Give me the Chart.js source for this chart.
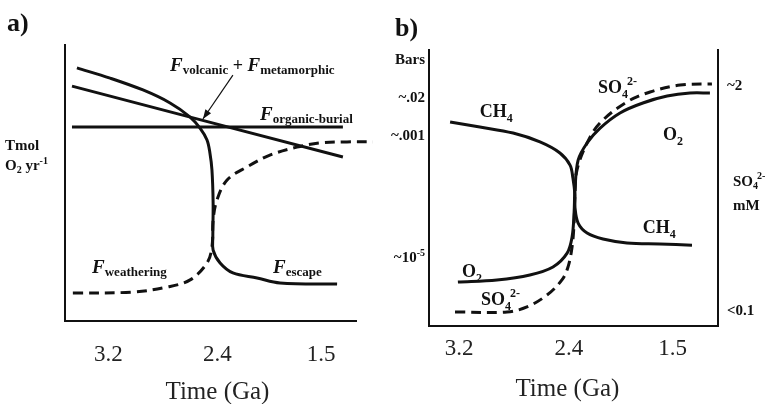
<!DOCTYPE html>
<html><head><meta charset="utf-8">
<script src="https://cdn.jsdelivr.net/npm/chart.js@4/dist/chart.umd.min.js"></script>
<style>
html,body{margin:0;padding:0;background:#fff;width:765px;height:404px;overflow:hidden}
#ca{position:absolute;left:0;top:0}
#cb{position:absolute;left:380px;top:0}
</style></head><body>
<canvas id="ca" width="380" height="404"></canvas>
<canvas id="cb" width="385" height="404"></canvas>
<script>
// ---------- Panel a (schematic position units 0-100) ----------
const aTickPos = [14.9, 52.4, 88.0];
const aTickLabels = ['3.2', '2.4', '1.5'];
const axisTitle = 'Time (Ga)';
const aTitlePos = 52.4;
const escapeX = [4.1, 15.5, 26.8, 36.1, 43.0, 46.4, 48.8, 49.8, 50.5, 50.9, 50.8, 50.9, 53.3, 57.7, 66.0, 73.9, 93.5];
const escapeY = [91.7, 88.0, 83.7, 79.0, 73.9, 69.9, 65.6, 60.9, 54.7, 42.8, 30.4, 25.7, 21.0, 17.4, 15.6, 13.8, 13.4];
const volcanicX = [2.4, 95.5];
const volcanicY = [85.1, 59.4];
const burialX = [2.4, 95.5];
const burialY = [70.3, 70.3];
const weatheringX = [2.7, 23.4, 35.1, 43.0, 48.8, 50.5, 50.9, 52.2, 55.7, 62.5, 70.4, 79.7, 87.6, 96.9, 105.8];
const weatheringY = [10.1, 10.5, 12.3, 14.9, 21.0, 26.8, 36.6, 43.8, 51.1, 55.8, 60.1, 63.0, 64.5, 64.9, 64.9];

// ---------- Panel b ----------
const bTickPos = [10.4, 48.4, 84.3];
const bTickLabels = ['3.2', '2.4', '1.5'];
const bTitlePos = 47.9;
const ch4X = [7.3, 17.6, 29.1, 38.4, 45.3, 48.8, 49.8, 50.5, 50.5, 51.6, 54.7, 60.2, 68.5, 79.9, 91.0];
const ch4Y = [73.9, 72.1, 69.9, 66.7, 62.7, 58.3, 53.6, 47.5, 43.1, 37.3, 33.7, 31.5, 30.1, 29.7, 29.3];
const o2X = [10.0, 23.5, 34.9, 42.9, 47.8, 49.5, 50.2, 50.5, 51.6, 54.7, 59.2, 66.1, 74.0, 82.4, 90.3, 97.2];
const o2Y = [15.9, 16.7, 18.5, 21.4, 26.4, 32.2, 40.9, 49.3, 60.1, 66.3, 71.7, 77.2, 80.8, 83.3, 84.4, 84.4];
const so4X = [9.0, 27.0, 33.9, 40.8, 46.0, 48.1, 49.5, 50.2, 50.5, 51.2, 54.7, 59.2, 68.5, 76.5, 86.9, 97.9];
const so4Y = [5.1, 5.1, 6.9, 11.2, 16.7, 21.4, 28.6, 37.3, 47.5, 56.5, 66.3, 73.6, 81.2, 84.8, 87.3, 87.7];

// left (Bars) and right (SO4 mM) level labels of panel b
const bLeftLevels = [
  {y: 94.9, parts: [['Bars', 'u']]},
  {y: 81.2, parts: [['~.02', 'u']]},
  {y: 67.4, parts: [['~.001', 'u']]},
  {y: 23.2, parts: [['~10', 'u'], ['-5', 'usp']]}
];
const bRightLevels = [
  {y: 85.5, dx: 9, parts: [['~2', 'u']]},
  {y: 50.7, dx: 15, parts: [['SO', 'u'], ['4', 'us'], ['2-', 'usp2']]},
  {y: 42.0, dx: 15, parts: [['mM', 'u']]},
  {y: 4.0, dx: 9, parts: [['<0.1', 'u']]}
];

const aLabels = [
  {x: 36.1, y: 90.4, parts: [['F', 'F'], ['volcanic', 'sub'], [' + ', 'n'], ['F', 'F'], ['metamorphic', 'sub']]},
  {x: 67.0, y: 72.8, parts: [['F', 'F'], ['organic-burial', 'sub']]},
  {x: 9.3, y: 17.4, parts: [['F', 'F'], ['weathering', 'sub']]},
  {x: 71.5, y: 17.4, parts: [['F', 'F'], ['escape', 'sub']]}
];
const aUnits = [
  {y: 62.0, parts: [['Tmol', 'u']]},
  {y: 54.7, parts: [['O', 'u'], ['2', 'us'], [' yr', 'u'], ['-1', 'usp']]}
];
const bLabels = [
  {x: 17.6, y: 75.7, parts: [['CH', 'c'], ['4', 'cs']]},
  {x: 58.5, y: 84.4, parts: [['SO', 'c'], ['4', 'cs'], ['2-', 'csup']]},
  {x: 81.0, y: 67.4, parts: [['O', 'c'], ['2', 'cs']]},
  {x: 74.0, y: 33.7, parts: [['CH', 'c'], ['4', 'cs']]},
  {x: 11.4, y: 17.8, parts: [['O', 'c'], ['2', 'cs']]},
  {x: 18.0, y: 7.6, parts: [['SO', 'c'], ['4', 'cs'], ['2-', 'csup']]}
];
const arrowFrom = {x: 57.7, y: 89.1};
const arrowTo = {x: 47.4, y: 73.2};

const SERIF = '"Liberation Serif", "Times New Roman", serif';
const STYLES = {
  F: {font: 'italic bold 19px ' + SERIF, dy: 0},
  sub: {font: 'bold 13px ' + SERIF, dy: 3},
  n: {font: 'bold 18px ' + SERIF, dy: 0},
  c: {font: 'bold 18px ' + SERIF, dy: 0},
  cs: {font: 'bold 12px ' + SERIF, dy: 5},
  csup: {font: 'bold 12px ' + SERIF, dy: -8, dx: -1},
  u: {font: 'bold 15px ' + SERIF, dy: 0},
  us: {font: 'bold 10px ' + SERIF, dy: 3},
  usp: {font: 'bold 10px ' + SERIF, dy: -6},
  usp2: {font: 'bold 10px ' + SERIF, dy: -7, dx: -1}
};

function partsWidth(ctx, parts) {
  let w = 0;
  for (const [t, s] of parts) { ctx.font = STYLES[s].font; w += ctx.measureText(t).width + (STYLES[s].dx || 0); }
  return w;
}
function drawParts(ctx, x, y, parts, align) {
  let cx = align === 'right' ? x - partsWidth(ctx, parts) : x;
  ctx.textBaseline = 'alphabetic';
  ctx.textAlign = 'left';
  ctx.fillStyle = '#111';
  for (const [t, s] of parts) {
    const st = STYLES[s];
    cx += (st.dx || 0);
    ctx.font = st.font;
    ctx.fillText(t, cx, y + (st.dy || 0));
    cx += ctx.measureText(t).width;
  }
}

function zip(xs, ys) { return xs.map((x, i) => ({x: x, y: ys[i]})); }

const LINE = '#111';
function lineDs(label, xs, ys, dashed) {
  return {
    label: label, data: zip(xs, ys), borderColor: LINE, borderWidth: 3,
    pointRadius: 0, tension: 0.35, fill: false, clip: false,
    borderDash: dashed ? [10, 6] : [], borderCapStyle: 'butt', borderJoinStyle: 'round'
  };
}

function xScale(tickPos, tickLabels, tickPad, height) {
  return {
    type: 'linear', min: 0, max: 100, position: 'bottom',
    grid: {display: false, drawTicks: false},
    border: {display: true, color: '#111', width: 2},
    afterBuildTicks: (s) => { s.ticks = tickPos.map(v => ({value: v})); },
    afterFit: (s) => { s.height = height; },
    ticks: {
      autoSkip: false, maxRotation: 0, padding: tickPad, color: '#222',
      font: {family: SERIF, size: 23},
      callback: (v, i) => tickLabels[i]
    },
    title: {display: false}
  };
}
function yScale(pos) {
  return {
    type: 'linear', min: 0, max: 100, position: pos,
    grid: {display: false, drawTicks: false},
    border: {display: true, color: '#111', width: 2},
    ticks: {display: false}
  };
}

function drawAxisTitle(chart, pos, yCenter) {
  const ctx = chart.ctx;
  ctx.font = '25px ' + SERIF; ctx.fillStyle = '#222';
  ctx.textAlign = 'center'; ctx.textBaseline = 'middle';
  ctx.fillText(axisTitle, chart.scales.x.getPixelForValue(pos), yCenter);
}

const annotA = {
  id: 'annotA',
  afterDraw(chart) {
    const ctx = chart.ctx, xs = chart.scales.x, ys = chart.scales.y;
    ctx.save();
    drawAxisTitle(chart, aTitlePos, xs.bottom - 12);
    ctx.textAlign = 'left';
    ctx.font = 'bold 26px ' + SERIF; ctx.fillStyle = '#111'; ctx.textBaseline = 'alphabetic';
    ctx.fillText('a)', 7, 31);
    for (const l of aLabels) drawParts(ctx, xs.getPixelForValue(l.x), ys.getPixelForValue(l.y), l.parts);
    for (const l of aUnits) drawParts(ctx, chart.chartArea.left - 60, ys.getPixelForValue(l.y), l.parts);
    const x1 = xs.getPixelForValue(arrowFrom.x), y1 = ys.getPixelForValue(arrowFrom.y);
    const x2 = xs.getPixelForValue(arrowTo.x), y2 = ys.getPixelForValue(arrowTo.y);
    ctx.strokeStyle = '#111'; ctx.lineWidth = 1.2;
    ctx.beginPath(); ctx.moveTo(x1, y1); ctx.lineTo(x2, y2); ctx.stroke();
    const ang = Math.atan2(y2 - y1, x2 - x1), L = 10, W = 0.35;
    ctx.beginPath();
    ctx.moveTo(x2, y2);
    ctx.lineTo(x2 - L * Math.cos(ang - W), y2 - L * Math.sin(ang - W));
    ctx.lineTo(x2 - L * Math.cos(ang + W), y2 - L * Math.sin(ang + W));
    ctx.closePath(); ctx.fillStyle = '#111'; ctx.fill();
    ctx.restore();
  }
};
const annotB = {
  id: 'annotB',
  afterDraw(chart) {
    const ctx = chart.ctx, xs = chart.scales.x, ys = chart.scales.y;
    const ca = chart.chartArea;
    ctx.save();
    drawAxisTitle(chart, bTitlePos, xs.bottom - 14.5);
    ctx.textAlign = 'left';
    ctx.font = 'bold 26px ' + SERIF; ctx.fillStyle = '#111'; ctx.textBaseline = 'alphabetic';
    ctx.fillText('b)', 15, 36);
    for (const l of bLabels) drawParts(ctx, xs.getPixelForValue(l.x), ys.getPixelForValue(l.y), l.parts);
    for (const l of bLeftLevels) drawParts(ctx, ca.left - 4, ys.getPixelForValue(l.y), l.parts, 'right');
    for (const l of bRightLevels) drawParts(ctx, ca.right + l.dx, ys.getPixelForValue(l.y), l.parts);
    ctx.restore();
  }
};

const common = {
  responsive: false, animation: false, events: [],
  plugins: {legend: {display: false}, tooltip: {enabled: false}}
};

new Chart(document.getElementById('ca'), {
  type: 'line',
  data: {datasets: [
    lineDs('F escape', escapeX, escapeY, false),
    lineDs('F volcanic + F metamorphic', volcanicX, volcanicY, false),
    lineDs('F organic-burial', burialX, burialY, false),
    lineDs('F weathering', weatheringX, weatheringY, true)
  ]},
  options: Object.assign({}, common, {
    layout: {padding: {left: 65, right: 24, top: 45, bottom: 0}},
    scales: {x: xScale(aTickPos, aTickLabels, 20, 83), y: yScale('left')}
  }),
  plugins: [annotA]
});

new Chart(document.getElementById('cb'), {
  type: 'line',
  data: {datasets: [
    lineDs('CH4', ch4X, ch4Y, false),
    lineDs('O2', o2X, o2Y, false),
    lineDs('SO4 2-', so4X, so4Y, true)
  ]},
  options: Object.assign({}, common, {
    layout: {padding: {left: 49, right: 47, top: 50, bottom: 0}},
    scales: {x: xScale(bTickPos, bTickLabels, 9, 78), y: yScale('left'), y2: yScale('right')}
  }),
  plugins: [annotB]
});
</script>
</body></html>
